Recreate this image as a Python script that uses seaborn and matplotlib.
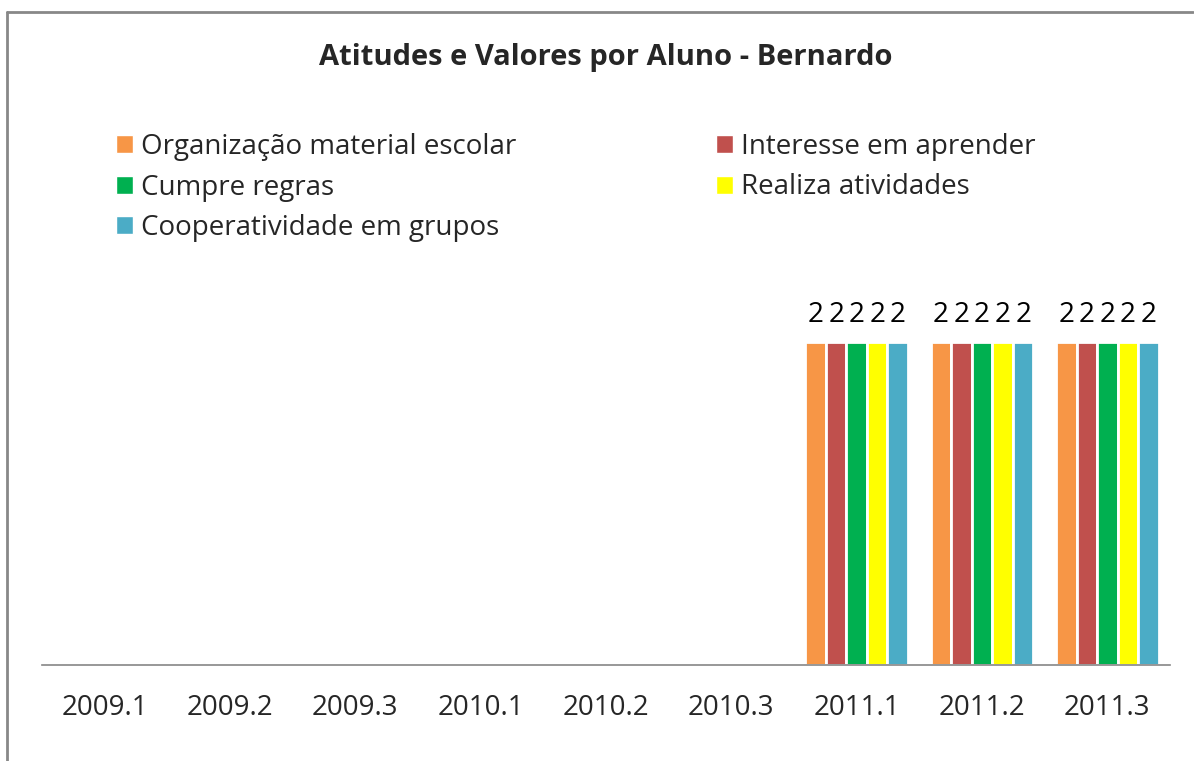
import matplotlib
matplotlib.use('Agg')
import numpy as np
import pandas as pd
import seaborn as sns
import matplotlib.pyplot as plt
from matplotlib.lines import Line2D
from matplotlib.patches import Patch

# dados
periodos = ['2009.1', '2009.2', '2009.3', '2010.1', '2010.2', '2010.3', '2011.1', '2011.2', '2011.3']
organizacao = [None, None, None, None, None, None, 2, 2, 2]
interesse = [None, None, None, None, None, None, 2, 2, 2]
cumpre = [None, None, None, None, None, None, 2, 2, 2]
realiza = [None, None, None, None, None, None, 2, 2, 2]
cooperatividade = [None, None, None, None, None, None, 2, 2, 2]

series = ['Organização material escolar', 'Interesse em aprender', 'Cumpre regras',
          'Realiza atividades', 'Cooperatividade em grupos']
cores = ['#F79646', '#C0504D', '#00B050', '#FFFF00', '#4BACC6']

df = pd.DataFrame({'periodo': periodos, series[0]: organizacao, series[1]: interesse,
                   series[2]: cumpre, series[3]: realiza, series[4]: cooperatividade})
df = df.melt(id_vars='periodo', var_name='item', value_name='valor').dropna()
df['valor'] = df['valor'].astype(float)

sns.set_style('white')
plt.rcParams['font.family'] = ['Open Sans', 'DejaVu Sans']
fs = 20

fig = plt.figure(figsize=(11.94, 7.61), dpi=100)
W, H = 1194, 761
# eixo: esquerda 42px, direita 1170px, base 665px, topo 261px
ax = fig.add_axes([42 / W, 1 - 665 / H, 1128 / W, 404 / H])

sns.barplot(data=df, x='periodo', y='valor', hue='item', order=periodos, hue_order=series,
            palette=cores, saturation=1, width=0.82, edgecolor='white', linewidth=2,
            ax=ax, legend=False)

for c in ax.containers:
    ax.bar_label(c, fmt='%g', padding=9, fontsize=fs, color='black')

ax.set_ylim(0, 2.5)
ax.set_xlim(-0.5, len(periodos) - 0.5)
ax.set_xlabel('')
ax.set_ylabel('')
ax.set_yticks([])
ax.tick_params(axis='x', length=0, pad=21, labelsize=fs)
for s in ['top', 'left', 'right']:
    ax.spines[s].set_visible(False)
ax.spines['bottom'].set_color('#868686')
ax.spines['bottom'].set_linewidth(1.2)

fig.text(606 / W, 1 - 57 / H, 'Atitudes e Valores por Aluno - Bernardo', ha='center', va='center',
         fontsize=21, fontweight='bold')

# legenda em duas colunas
col1 = [Patch(facecolor=cores[i], label=series[i]) for i in [0, 2, 4]]
col2 = [Patch(facecolor=cores[i], label=series[i]) for i in [1, 3]]
kw = dict(frameon=False, fontsize=fs, handlelength=0.6, handleheight=0.6,
          handletextpad=0.3, labelspacing=0.45, borderaxespad=0, borderpad=0)
fig.legend(handles=col1, loc='upper left', bbox_to_anchor=(116 / W, 1 - 133 / H), **kw)
fig.legend(handles=col2, loc='upper left', bbox_to_anchor=(716 / W, 1 - 133 / H), **kw)

# moldura
fig.add_artist(Line2D([7 / W, 7 / W], [0, 1 - 12 / H], transform=fig.transFigure, color='#888888', lw=2))
fig.add_artist(Line2D([7 / W, 1193 / W], [1 - 12 / H, 1 - 12 / H], transform=fig.transFigure, color='#888888', lw=2))

fig.savefig('out.png', dpi=100)
